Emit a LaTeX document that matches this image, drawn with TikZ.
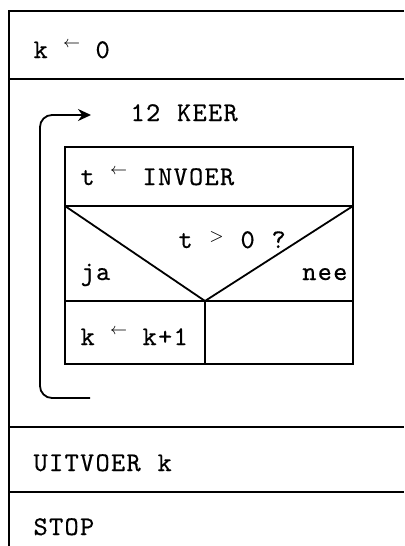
\documentclass[tikz,border=0pt]{standalone}
\usepackage{fontspec}
\usetikzlibrary{arrows.meta}
% slightly heavier typewriter face
\newfontfamily\typewr{lmmono10-regular}[Extension=.otf,FakeBold=0.4]
% typewriter text: every character sits in a column of fixed width
\newlength\cw
\setlength\cw{7.75pt}
\def\twloop#1{\ifx\relax#1\else\makebox[\cw][c]{#1}\expandafter\twloop\fi}
\newcommand\tws[1]{\twloop#1\relax}
% small raised symbols
\newcommand\asg{\raisebox{5.4pt}{\fontsize{8}{8}\selectfont$\leftarrow$}}
\newcommand\gtsm{\raisebox{3.5pt}{\fontsize{9}{9}\selectfont$>$}}
\begin{document}
\begin{tikzpicture}[x=0.5pt,y=-0.5pt,line width=0.9pt,
  txt/.style={anchor=base west,inner sep=0pt,font=\typewr\fontsize{13.5}{15}\selectfont},
  txtr/.style={txt,anchor=base east},
  loop/.style={rounded corners=6pt,-{Stealth[length=6.5pt,width=6pt]}}]
\useasboundingbox (0,0) rectangle (404,546);

% outer structogram
\draw (404,11) -- (9,11) -- (9,546);
\draw (9,79) -- (404,79);
\draw (9,427) -- (404,427);
\draw (9,492) -- (404,492);

% loop body
\draw (65,147) rectangle (353,364);
\draw (65,206) -- (353,206);
\draw (65,301) -- (353,301);
\draw (205,301) -- (205,364);
\draw (65,206) -- (205,301) -- (353,206);

% texts
\node[txt] (init) at (32,58) {\tws{k~\asg~0}};
\node[txt] (times) at (129,121) {\tws{12~KEER}};
\node[txt] (input) at (79,185) {\tws{t~\asg~INVOER}};
\node[txt] (cond) at (177,248) {\tws{t~\gtsm~0~?}};
\node[txt] (yes) at (79,280) {\tws{ja}};
\node[txtr] (no) at (349,280) {\tws{nee}};
\node[txt] (incr) at (79,345) {\tws{k~\asg~k+1}};
\node[txt] (output) at (32,471) {\tws{UITVOER~k}};
\node[txt] (stop) at (32,535) {\tws{STOP}};

% repetition arrow
\coordinate (lbot) at (90,398);
\coordinate (ltop) at (91,115);
\draw[loop] (lbot) -| (40,115) -- (ltop);
\end{tikzpicture}
\end{document}
